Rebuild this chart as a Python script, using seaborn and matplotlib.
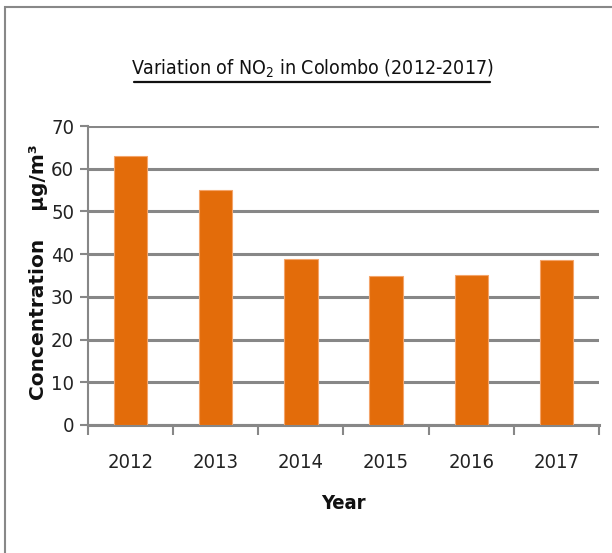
import matplotlib
matplotlib.use("Agg")
import matplotlib.pyplot as plt
import seaborn as sns
import pandas as pd

years = ["2012", "2013", "2014", "2015", "2016", "2017"]
no2 = [63.0, 55.1, 38.9, 34.8, 35.2, 38.6]
yticks = [0, 10, 20, 30, 40, 50, 60, 70]

df = pd.DataFrame({"Year": years, "NO2": no2})

sns.set_theme(style="white")
plt.rcParams["font.family"] = ["DejaVu Sans"]
plt.rcParams["font.stretch"] = "condensed"
plt.rcParams["mathtext.fontset"] = "custom"
plt.rcParams["mathtext.rm"] = "DejaVu Sans:stretch=condensed"
plt.rcParams["mathtext.it"] = "DejaVu Sans:stretch=condensed"

fig = plt.figure(figsize=(6.12, 5.53), dpi=100)
ax = fig.add_axes([88 / 612, 1 - 425 / 553, (599 - 88) / 612, (425 - 126) / 553])

sns.barplot(data=df, x="Year", y="NO2", color="#E36C0A", saturation=1,
            width=0.39, edgecolor="#F4A46A", linewidth=0.8, ax=ax, zorder=3)

grid_c = "#878787"
ax.set_ylim(0, 70)
ax.set_xlim(-0.5, 5.5)
ax.set_yticks(yticks)
ax.yaxis.grid(True, color=grid_c, linewidth=2.2, zorder=0)
ax.set_axisbelow(True)
for s in ["top", "right"]:
    ax.spines[s].set_visible(False)
ax.spines["left"].set_color(grid_c)
ax.spines["left"].set_linewidth(1.5)
ax.spines["bottom"].set_color(grid_c)
ax.spines["bottom"].set_linewidth(2.2)

ax.tick_params(axis="y", which="major", length=6, width=1.5, color=grid_c,
               direction="out", left=True, labelsize=14.5, pad=4, labelcolor="#222222")
ax.tick_params(axis="x", which="major", length=0, labelsize=14.5, pad=20, labelcolor="#222222")
ax.set_xticks([i - 0.5 for i in range(7)], minor=True)
ax.tick_params(axis="x", which="minor", length=7, width=1.5, color=grid_c,
               direction="out", bottom=True)

ax.set_xlabel("Year", fontsize=14.5, fontweight="bold", labelpad=16, color="#111111")
ax.set_ylabel("Concentration    µg/m³", fontsize=14.5, fontweight="bold",
              fontstretch="normal", labelpad=2, color="#111111")
ax.yaxis.label.set_y((1 - 272 / 553 - (1 - 425 / 553)) / ((425 - 126) / 553))

fig.text(312 / 612, 1 - 75 / 553, r"Variation of NO$_2$ in Colombo (2012-2017)",
         ha="center", va="baseline", fontsize=14, color="#111111")
fig.add_artist(plt.Line2D([134 / 612, 490 / 612], [1 - 82 / 553, 1 - 82 / 553],
                          color="#111111", linewidth=1.6))

fig.add_artist(plt.Rectangle((5 / 612, -0.1), 1.2, 1 - 7 / 553 + 0.1, fill=False,
                             edgecolor="#888888", linewidth=1.5,
                             transform=fig.transFigure))

fig.savefig("out.png", dpi=100)
